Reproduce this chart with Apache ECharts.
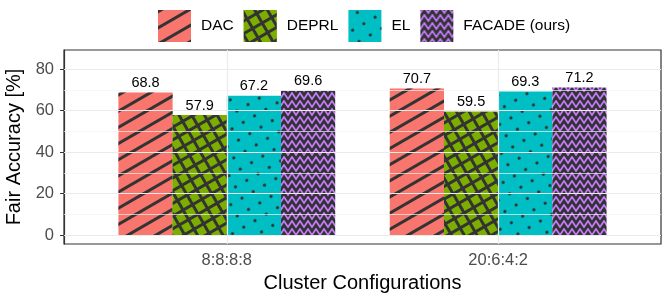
<!DOCTYPE html>
<html>
<head>
<meta charset="utf-8">
<title>Fair Accuracy</title>
<script src="https://cdn.jsdelivr.net/npm/echarts@6/dist/echarts.min.js"></script>
<style>
    html, body { margin: 0; padding: 0; background: #fff; }
    #myChart { width: 665px; height: 295px; }
</style>
</head>
<body>
<div id="myChart"></div>
<script>
var categories = ['8:8:8:8', '20:6:4:2'];
var seriesNames = ['DAC', 'DEPRL', 'EL', 'FACADE (ours)'];
var dacValues = [68.8, 70.7];
var deprlValues = [57.9, 59.5];
var elValues = [67.2, 69.3];
var facadeValues = [69.6, 71.2];
var yTicks = [0, 20, 40, 60, 80];
var yMinorTicks = [10, 30, 50, 70];

var INK = '#333333';
var colors = ['#F8766D', '#7CAE00', '#00BFC4', '#C77CFF'];

// FACADE 锯齿波贴图
function makeZigzag(bg) {
    var c = document.createElement('canvas');
    c.width = 16;
    c.height = 16;
    var ctx = c.getContext('2d');
    ctx.fillStyle = bg;
    ctx.fillRect(0, 0, 16, 16);
    ctx.strokeStyle = INK;
    ctx.lineWidth = 2.7;
    [-8, 0, 8, 16].forEach(function (oy) {
        ctx.beginPath();
        ctx.moveTo(-8, oy + 7);
        for (var x = -8; x <= 24; x += 8) {
            ctx.lineTo(x + 4, oy + 1);
            ctx.lineTo(x + 8, oy + 7);
        }
        ctx.stroke();
    });
    return c;
}
var zigzagTile = makeZigzag(colors[3]);

// 各系列的填充样式 (decal)
function styleOf(i) {
    if (i === 0) {
        return {
            color: colors[0],
            decal: {
                symbol: 'rect', color: INK, symbolSize: 1,
                dashArrayX: [1, 0], dashArrayY: [2.2, 10.3],
                rotation: -Math.PI / 6
            }
        };
    }
    if (i === 1) {
        return {
            color: colors[1],
            decal: {
                symbol: 'rect', color: colors[1], backgroundColor: INK, symbolSize: 1,
                dashArrayX: [7.5, 3], dashArrayY: [7.5, 3],
                rotation: -Math.PI / 6
            }
        };
    }
    if (i === 2) {
        return {
            color: colors[2],
            decal: {
                symbol: 'circle', color: INK, symbolSize: 0.25,
                dashArrayX: [12.5, 0], dashArrayY: [12.5, 0],
                rotation: -Math.PI / 6
            }
        };
    }
    return {color: {image: zigzagTile, repeat: 'repeat'}};
}

var valueLists = [dacValues, deprlValues, elValues, facadeValues];

function toPoints(values) {
    return values.map(function (v, i) {
        return [i + 1, v];
    });
}

var gridLineData = []
    .concat(yMinorTicks.map(function (v) {
        return {yAxis: v, lineStyle: {color: '#F2F2F2', width: 0.7}};
    }))
    .concat(yTicks.map(function (v) {
        return {yAxis: v, lineStyle: {color: '#EBEBEB', width: 1.2}};
    }))
    .concat(categories.map(function (c, i) {
        return {xAxis: i + 1, lineStyle: {color: '#EBEBEB', width: 1.2}};
    }));

var series = [{
    name: 'grid',
    type: 'line',
    data: [],
    z: 0,
    silent: true,
    markLine: {
        silent: true,
        symbol: 'none',
        label: {show: false},
        lineStyle: {type: 'solid'},
        data: gridLineData
    }
}];

seriesNames.forEach(function (name, i) {
    series.push({
        name: name,
        type: 'bar',
        data: toPoints(valueLists[i]),
        barWidth: 54.2,
        barGap: '0%',
        z: 2,
        itemStyle: styleOf(i),
        label: {
            show: true,
            position: 'top',
            distance: 2,
            color: '#000',
            fontSize: 14.5
        }
    });
});

var myChart = echarts.init(document.getElementById('myChart'));
var option = {
    animation: false,
    textStyle: {fontFamily: 'Liberation Sans, Arial, sans-serif'},
    legend: {
        data: seriesNames,
        left: 153,
        top: 5,
        icon: 'rect',
        itemWidth: 33,
        itemHeight: 32,
        itemGap: 10,
        textStyle: {fontSize: 15.5, color: '#000', padding: [0, 0, 0, 5]}
    },
    grid: {
        left: 64,
        right: 4,
        top: 50,
        bottom: 51,
        containLabel: false,
        outerBoundsMode: 'none',
        show: true,
        backgroundColor: '#fff',
        borderColor: INK,
        borderWidth: 1.2
    },
    xAxis: {
        type: 'value',
        min: 0.4,
        max: 2.6,
        name: 'Cluster Configurations',
        nameLocation: 'middle',
        nameGap: 28,
        nameTextStyle: {fontSize: 20, color: '#000'},
        axisLine: {show: true, lineStyle: {color: INK, width: 1.2}},
        axisTick: {show: true, customValues: [1, 2], length: 4, lineStyle: {color: INK}},
        axisLabel: {
            customValues: [1, 2],
            fontSize: 16.5,
            color: '#4D4D4D',
            margin: 8,
            formatter: function (v) {
                return categories[Math.round(v) - 1];
            }
        },
        splitLine: {show: false}
    },
    yAxis: {
        type: 'value',
        min: -4.25,
        max: 89.25,
        name: 'Fair Accuracy [%]',
        nameLocation: 'middle',
        nameGap: 27,
        nameTextStyle: {fontSize: 20, color: '#000'},
        axisLine: {show: true, lineStyle: {color: INK, width: 1.2}},
        axisTick: {show: true, customValues: yTicks, length: 4, lineStyle: {color: INK}},
        axisLabel: {customValues: yTicks, fontSize: 16.5, color: '#4D4D4D', margin: 10},
        splitLine: {show: false}
    },
    series: series
};
myChart.setOption(option);
</script>
</body>
</html>
